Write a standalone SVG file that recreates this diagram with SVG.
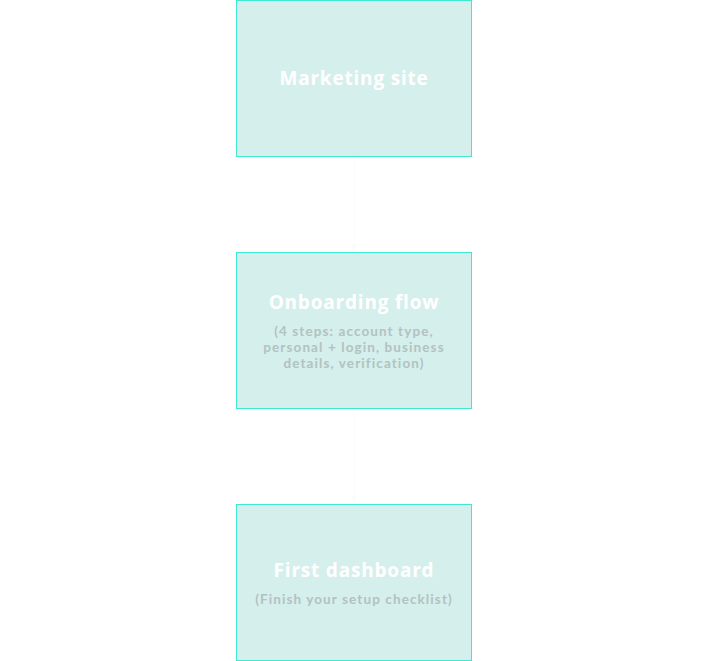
<svg xmlns="http://www.w3.org/2000/svg" width="708" height="661" viewBox="0 0 708 661">
<style>
.box{fill:#d5efec;stroke:#3ee9cf;stroke-width:1}
.t{font-family:"Open Sans","Liberation Sans",sans-serif;font-weight:700;font-size:19px;fill:#ffffff;text-anchor:middle;letter-spacing:0.8px}
.s{font-family:Lato,"Liberation Sans",sans-serif;font-weight:700;font-size:13.5px;fill:#b2c2c1;text-anchor:middle;letter-spacing:1.1px}
.c{stroke:#f9fcfb;stroke-width:1;fill:none}
</style>
<defs>
<marker id="ah" markerWidth="8" markerHeight="8" refX="4" refY="4" orient="auto"><path d="M0,1 L8,4 L0,7 z" fill="#f9fcfb"/></marker>
</defs>
<rect width="708" height="661" fill="#ffffff"/>
<g id="connectors">
<line class="c" x1="354" y1="157" x2="354" y2="248" marker-end="url(#ah)"/>
<line class="c" x1="354" y1="409" x2="354" y2="500" marker-end="url(#ah)"/>
</g>
<g id="marketing">
<rect class="box" x="236.5" y="0.5" width="235" height="156"/>
<text class="t" x="354" y="85">Marketing site</text>
</g>
<g id="onboarding">
<rect class="box" x="236.5" y="252.5" width="235" height="156"/>
<text class="t" x="354" y="309">Onboarding flow</text>
<text class="s" x="354" y="336">(4 steps: account type,</text>
<text class="s" x="354" y="352">personal + login, business</text>
<text class="s" x="354" y="368">details, verification)</text>
</g>
<g id="dashboard">
<rect class="box" x="236.5" y="504.5" width="235" height="156"/>
<text class="t" x="354" y="577">First dashboard</text>
<text class="s" x="354" y="604">(Finish your setup checklist)</text>
</g>
</svg>
